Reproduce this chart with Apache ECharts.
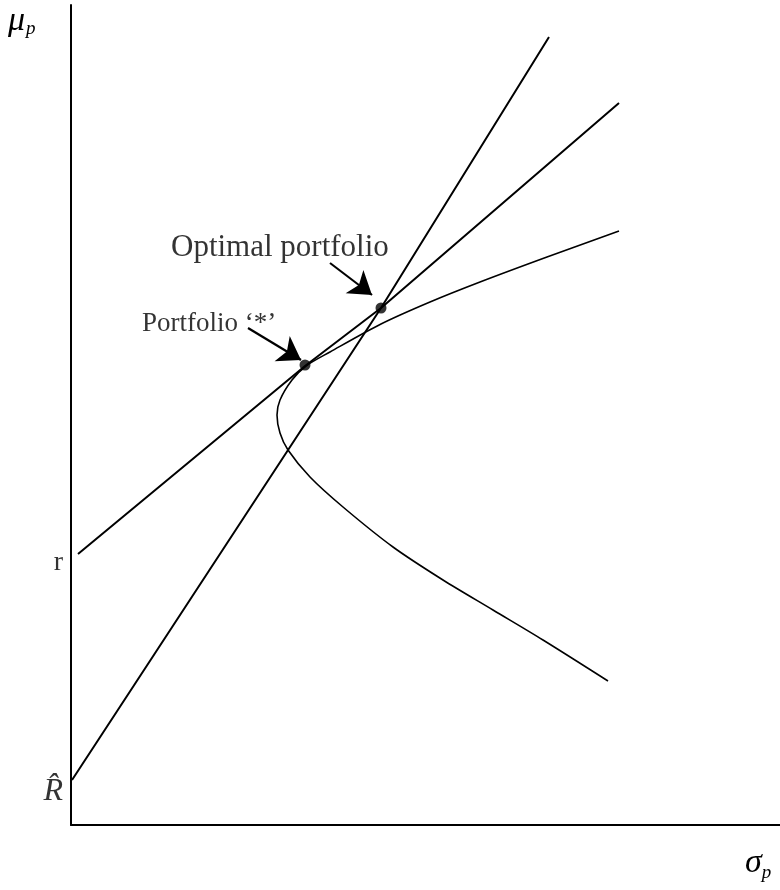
<!DOCTYPE html>
<html><head><meta charset="utf-8">
<script src="https://cdn.jsdelivr.net/npm/echarts@6/dist/echarts.min.js"></script>
<style>html,body{margin:0;padding:0;background:#fff}#c{width:780px;height:890px}</style>
</head><body><div id="c"></div>
<script>
// axis extents (sigma_p horizontal, mu_p vertical), arbitrary units
const sigmaRange = [0, 709];
const muRange = [0, 820];
// line from r through Portfolio '*' and the optimal portfolio
const rLine = [[7,271],[234,459],[310,517],[548,722]];
// line from R-hat through the optimal portfolio
const rHatLine = [[1,45],[310,517],[478,788]];
// mean-variance frontier (upper branch -> vertex -> lower branch)
const frontier = [[548,594],[476,568],[409,543],[359,523],[310,501],[259,473],[235,459],[221,445],[209,425],[206,410],[209,392],[217,375],[239,348],[272,318],[322,278],[372,245],[422,215],[472,185],[537,144]];
// marked portfolios: Portfolio '*', Optimal portfolio
const portfolios = [[234,460],[310,517]];
// annotation arrows [tail, tip]
const arrowFrom = [[177,497],[259,562]];
const arrowTo = [[230,465],[301,530]];
// annotation texts
const noteTexts = ["Portfolio \u2018*\u2019", "Optimal portfolio"];
const notePos = [[71,501],[100,577]];
const noteSizes = [27, 31];
// y-axis value labels
const yMarkTexts = ["r", "R\u0302"];
const yMarkValues = [262, 33];

const chart = echarts.init(document.getElementById('c'), null, {renderer:'canvas'});
const black = '#000';
const serif = '"Liberation Serif","DejaVu Serif",serif';

const option = {
  animation:false,
  backgroundColor:'#fff',
  grid:{left:71, top:5, width:709, height:820, containLabel:false},
  xAxis:{type:'value', min:sigmaRange[0], max:sigmaRange[1],
    axisLine:{show:true, onZero:false, lineStyle:{color:black, width:2}},
    axisTick:{show:false}, axisLabel:{show:false}, splitLine:{show:false}},
  yAxis:{type:'value', min:muRange[0], max:muRange[1],
    axisLine:{show:true, onZero:false, lineStyle:{color:black, width:2}},
    axisTick:{show:false}, axisLabel:{show:false}, splitLine:{show:false}},
  graphic:[
    {type:'text', left:8, top:4, style:{
      text:'{m|\u03bc}{s|p}', rich:{
        m:{fontFamily:serif, fontStyle:'italic', fontSize:34, fill:black},
        s:{fontFamily:serif, fontStyle:'italic', fontSize:19, fill:black, padding:[16,0,0,1]}
      }}},
    {type:'text', left:745, top:846, style:{
      text:'{m|\u03c3}{s|p}', rich:{
        m:{fontFamily:serif, fontStyle:'italic', fontSize:34, fill:black},
        s:{fontFamily:serif, fontStyle:'italic', fontSize:19, fill:black, padding:[20,0,0,0]}
      }}}
  ],
  series:[
    {type:'line', data:rLine, symbol:'none', lineStyle:{color:black, width:2}, z:2},
    {type:'line', data:rHatLine, symbol:'none', lineStyle:{color:black, width:2}, z:2},
    {type:'line', data:frontier, symbol:'none', smooth:0.3, lineStyle:{color:black, width:1.6}, z:2},
    {type:'scatter', data:portfolios, symbol:'circle', symbolSize:11, itemStyle:{color:black}, z:5},
    {type:'lines', coordinateSystem:'cartesian2d', symbol:['none','arrow'], symbolSize:22,
      lineStyle:{color:black, width:2.2, opacity:1, curveness:0},
      data:arrowFrom.map((f,i)=>({coords:[f, arrowTo[i]]})), z:4},
    {type:'scatter', symbolSize:0, silent:true, z:6,
      data:noteTexts.map((t,i)=>({value:notePos[i], label:{show:true, position:'right', distance:0,
        formatter:t, fontFamily:serif, fontSize:noteSizes[i], color:black}}))},
    {type:'scatter', symbolSize:0, silent:true, z:6,
      data:yMarkTexts.map((t,i)=>({value:[0, yMarkValues[i]], label:{show:true, position:'left', distance:8,
        formatter:t, fontFamily:serif, fontStyle: i===1?'italic':'normal', fontSize:i===1?32:28, color:black}}))}
  ]
};
chart.setOption(option);
</script></body></html>
